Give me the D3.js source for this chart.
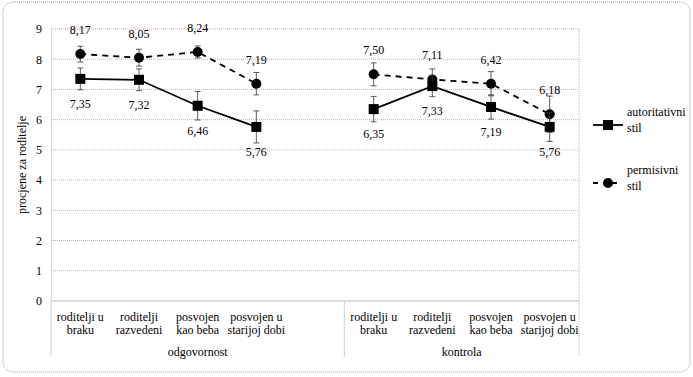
<!DOCTYPE html>
<html>
<head>
<meta charset="utf-8">
<script src="https://cdn.jsdelivr.net/npm/d3@7"></script>
<style>
  body { margin: 0; background: #fff; }
  svg text { font-family: "Liberation Serif", "Times New Roman", "DejaVu Serif", serif; }
</style>
</head>
<body>
<svg id="chart" width="693" height="377" font-family="Liberation Serif, serif"></svg>
<script>
const groups = ["odgovornost", "kontrola"];
const categories = [
    ["roditelji u", "braku"],
    ["roditelji", "razvedeni"],
    ["posvojen", "kao beba"],
    ["posvojen u", "starijoj dobi"]
];
const yTicks = [0, 1, 2, 3, 4, 5, 6, 7, 8, 9];

// values per group: [odgovornost, kontrola]
const autoritativni = [[7.35, 7.32, 6.46, 5.76], [6.35, 7.11, 6.42, 5.76]];
const permisivni = [[8.17, 8.05, 8.24, 7.19], [7.50, 7.33, 7.19, 6.18]];
const autoritativniErr = [[0.36, 0.36, 0.47, 0.53], [0.42, 0.35, 0.4, 0.48]];
const permisivniErr = [[0.26, 0.28, 0.2, 0.37], [0.38, 0.35, 0.4, 0.6]];
// data labels as printed in the figure
const autoritativniLabels = [["7,35", "7,32", "6,46", "5,76"], ["6,35", "7,33", "7,19", "5,76"]];
const permisivniLabels = [["8,17", "8,05", "8,24", "7,19"], ["7,50", "7,11", "6,42", "6,18"]];

const FONT = '"Liberation Serif", "Times New Roman", serif';
const margin = {left: 51, right: 114, top: 29, bottom: 76};
const width = 693, height = 377;

const svg = d3.select('#chart');

// outer frame
svg.append('rect')
    .attr('x', 3).attr('y', 2)
    .attr('width', 687).attr('height', 370)
    .attr('rx', 10).attr('ry', 10)
    .style('fill', 'none')
    .style('stroke', '#9a9a9a')
    .style('stroke-dasharray', '1,1');

// slot keys: 4 categories + empty slot, then 4 categories
const slots = [];
groups.forEach((g, gi) => {
    categories.forEach((c, ci) => slots.push(`${gi}-${ci}`));
    if (gi === 0) slots.push('gap');
});

const x = d3.scaleBand()
    .domain(slots)
    .range([margin.left, width - margin.right])
    .padding(0);

const y = d3.scaleLinear()
    .domain([0, 9])
    .range([height - margin.bottom, margin.top]);

const cx = (gi, ci) => x(`${gi}-${ci}`) + x.bandwidth() / 2;

function addText(sel) {
    return sel.append('text')
        .style('font-family', FONT)
        .style('font-size', '12px')
        .style('fill', '#000');
}

// gridlines
svg.append('g')
    .selectAll('line')
    .data(yTicks.filter(t => t > 0 && t < 9))
    .join('line')
        .attr('x1', margin.left).attr('x2', width - margin.right)
        .attr('y1', d => y(d)).attr('y2', d => y(d))
        .style('stroke', '#b5b5b5')
        .style('stroke-dasharray', '1,1');

// plot area border top/right
svg.append('path')
    .attr('d', `M${margin.left},${y(9)}H${width - margin.right}V${y(0)}`)
    .style('fill', 'none')
    .style('stroke', '#d4a3a3')
    .style('stroke-dasharray', '1,1');

// y axis
const yAxis = svg.append('g')
    .attr('transform', `translate(${margin.left},0)`)
    .call(d3.axisLeft(y).tickValues(yTicks).tickSize(0).tickPadding(9).tickFormat(d3.format('d')));
yAxis.attr('font-family', null);
yAxis.select('.domain').style('stroke', '#b5b5b5').style('stroke-dasharray', '1,1');
yAxis.selectAll('text')
    .style('font-family', FONT)
    .style('font-size', '12px')
    .style('fill', '#000');

// x axis baseline
svg.append('line')
    .attr('x1', margin.left).attr('x2', width - margin.right)
    .attr('y1', y(0)).attr('y2', y(0))
    .style('stroke', '#bdbdbd');

// group separators
svg.append('g')
    .selectAll('line')
    .data([margin.left, x('1-0'), width - margin.right])
    .join('line')
        .attr('x1', d => d).attr('x2', d => d)
        .attr('y1', y(0)).attr('y2', y(0) + 56)
        .style('stroke', (d, i) => i === 2 ? '#b5b5b5' : '#cfcfcf')
        .style('stroke-dasharray', (d, i) => i === 2 ? '1,1' : null);

// category labels
groups.forEach((g, gi) => {
    categories.forEach((c, ci) => {
        const t = addText(svg)
            .attr('x', cx(gi, ci))
            .attr('y', y(0) + 20)
            .attr('text-anchor', 'middle');
        t.append('tspan').attr('x', cx(gi, ci)).text(c[0]);
        t.append('tspan').attr('x', cx(gi, ci)).attr('dy', 12.5).text(c[1]);
    });
    const gx = gi === 0
        ? (margin.left + x('1-0')) / 2
        : (x('1-0') + width - margin.right) / 2;
    addText(svg)
        .attr('x', gx)
        .attr('y', y(0) + 55)
        .attr('text-anchor', 'middle')
        .text(g);
});

// y axis title
addText(svg)
    .attr('transform', `translate(26, ${(y(0) + y(9)) / 2}) rotate(-90)`)
    .attr('text-anchor', 'middle')
    .text('procjene za roditelje');

const series = [
    {name: 'permisivni', values: permisivni, err: permisivniErr, labels: permisivniLabels, dash: '6,5', marker: 'circle', labelDy: -20},
    {name: 'autoritativni', values: autoritativni, err: autoritativniErr, labels: autoritativniLabels, dash: null, marker: 'square', labelDy: 29}
];

const line = d3.line().x(d => d.x).y(d => d.y);

series.forEach(s => {
    s.values.forEach((vals, gi) => {
        const pts = vals.map((v, ci) => ({x: cx(gi, ci), y: y(v), v: v, e: s.err[gi][ci], label: s.labels[gi][ci]}));

        svg.append('path')
            .datum(pts)
            .attr('d', line)
            .style('fill', 'none')
            .style('stroke', '#000')
            .style('stroke-width', 1.8)
            .style('stroke-dasharray', s.dash);

        // error bars
        const eb = svg.append('g').selectAll('g').data(pts).join('g');
        eb.append('line')
            .attr('x1', d => d.x).attr('x2', d => d.x)
            .attr('y1', d => y(d.v + d.e)).attr('y2', d => y(d.v - d.e))
            .style('stroke', '#333').style('stroke-width', 0.8);
        eb.append('line')
            .attr('x1', d => d.x - 3).attr('x2', d => d.x + 3)
            .attr('y1', d => y(d.v + d.e)).attr('y2', d => y(d.v + d.e))
            .style('stroke', '#333').style('stroke-width', 0.8);
        eb.append('line')
            .attr('x1', d => d.x - 3).attr('x2', d => d.x + 3)
            .attr('y1', d => y(d.v - d.e)).attr('y2', d => y(d.v - d.e))
            .style('stroke', '#333').style('stroke-width', 0.8);

        // markers
        if (s.marker === 'circle') {
            svg.append('g').selectAll('circle').data(pts).join('circle')
                .attr('cx', d => d.x).attr('cy', d => d.y).attr('r', 5)
                .style('fill', '#000');
        } else {
            svg.append('g').selectAll('rect').data(pts).join('rect')
                .attr('x', d => d.x - 5).attr('y', d => d.y - 5)
                .attr('width', 10).attr('height', 10)
                .style('fill', '#000');
        }

        // data labels
        addText(svg.append('g').selectAll('text').data(pts).join('g'))
            .attr('x', d => d.x)
            .attr('y', d => d.y + s.labelDy)
            .attr('text-anchor', 'middle')
            .text(d => d.label);
    });
});

// legend
const legend = [
    {text: ['autoritativni', 'stil'], dash: null, marker: 'square', y: 125},
    {text: ['permisivni', 'stil'], dash: '5,14', marker: 'circle', y: 183}
];
legend.forEach(l => {
    svg.append('line')
        .attr('x1', 593).attr('x2', 623)
        .attr('y1', l.y).attr('y2', l.y)
        .style('stroke', '#000').style('stroke-width', 1.8)
        .style('stroke-dasharray', l.dash);
    if (l.marker === 'circle') {
        svg.append('circle').attr('cx', 608).attr('cy', l.y).attr('r', 5).style('fill', '#000');
    } else {
        svg.append('rect').attr('x', 603).attr('y', l.y - 5).attr('width', 10).attr('height', 10).style('fill', '#000');
    }
    const t = addText(svg)
        .attr('x', 627).attr('y', l.y - 9);
    t.append('tspan').attr('x', 627).attr('dy', 0).text(l.text[0]);
    t.append('tspan').attr('x', 627).attr('dy', 16).text(l.text[1]);
});
</script>
</body>
</html>
